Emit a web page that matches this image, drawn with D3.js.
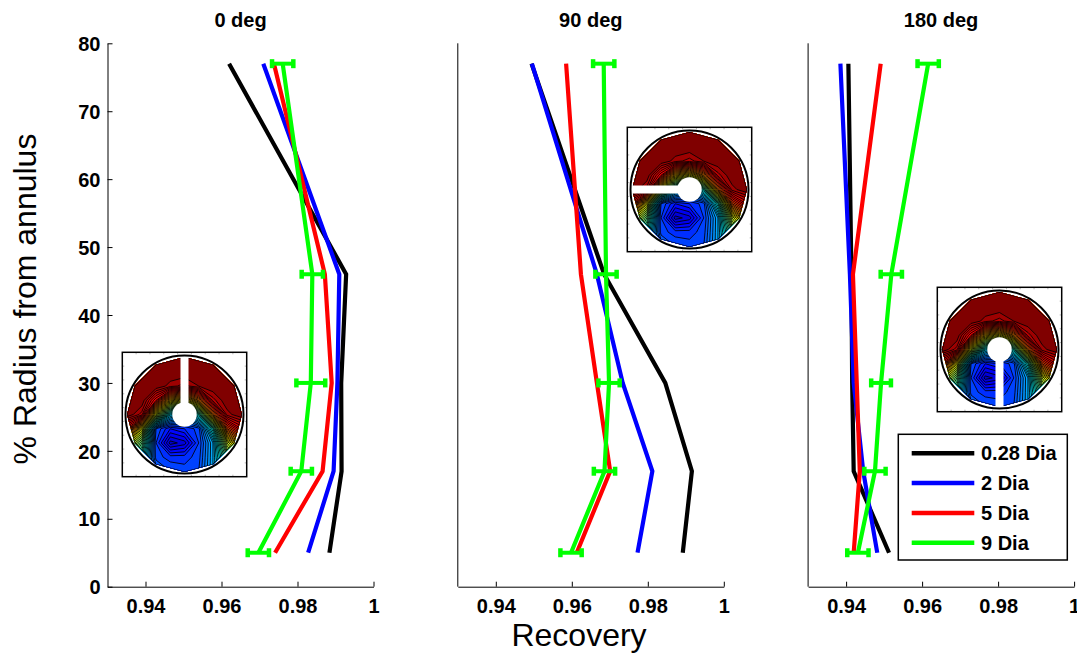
<!DOCTYPE html>
<html><head><meta charset="utf-8">
<script src="https://cdn.jsdelivr.net/npm/d3@7"></script>
<style>
body{margin:0;background:#fff}
svg{display:block}
text{font-family:"Liberation Sans",Arial,Helvetica,sans-serif}
</style>
</head><body>
<svg id="c" width="1077" height="653"></svg>
<script>
// ---------------- data ----------------
const panelTitles = ["0 deg", "90 deg", "180 deg"];
const seriesNames = ["0.28 Dia", "2 Dia", "5 Dia", "9 Dia"];
const seriesColors = ["#000000", "#0000ff", "#ff0000", "#00ff00"];
const radiusLevels = [77, 46, 30, 17, 5];
const xTickValues = [0.94, 0.96, 0.98, 1];
const yTickValues = [0, 10, 20, 30, 40, 50, 60, 70, 80];

// recovery per panel (0, 90, 180 deg), values at radiusLevels
const dia028 = [
  [0.9620, 0.9928, 0.9915, 0.9916, 0.9884],
  [0.9494, 0.9685, 0.9846, 0.9916, 0.9892],
  [0.9406, 0.9414, 0.9416, 0.9420, 0.9513]
];
const dia2 = [
  [0.9710, 0.9910, 0.9905, 0.9895, 0.9828],
  [0.9495, 0.9666, 0.9734, 0.9812, 0.9773],
  [0.9385, 0.9410, 0.9420, 0.9445, 0.9482]
];
const dia5 = [
  [0.9738, 0.9872, 0.9890, 0.9866, 0.9741],
  [0.9585, 0.9624, 0.9666, 0.9701, 0.9613],
  [0.9491, 0.9418, 0.9428, 0.9436, 0.9420]
];
const dia9 = [
  [0.9761, 0.9839, 0.9835, 0.9810, 0.9697],
  [0.9684, 0.9690, 0.9698, 0.9686, 0.9598],
  [0.9616, 0.9519, 0.9492, 0.9476, 0.9431]
];
const dia9Err = [
  [0.0028, 0.0028, 0.0038, 0.0028, 0.0028],
  [0.0028, 0.0028, 0.0028, 0.0028, 0.0028],
  [0.0028, 0.0028, 0.0026, 0.0028, 0.0028]
];
const allSeries = [dia028, dia2, dia5, dia9];

// inset contour field (decorative annulus map), rows top->bottom
const insetField = [
  [1, 1, 1, 1, 1, 1, 1, 1, 1],
  [1, 1, 1, 1, 1, 1, 1, 1, 1],
  [1, 1, 1, 0.97, 0.95, 0.98, 1, 1, 1],
  [1, 1, 0.88, 0.68, 0.62, 0.74, 0.95, 1, 1],
  [1, 0.95, 0.6, 0.35, 0.3, 0.4, 0.75, 0.97, 1],
  [0.85, 0.62, 0.2, 0.14, 0.16, 0.19, 0.4, 0.8, 0.9],
  [0.65, 0.48, 0.18, 0.07, 0.09, 0.18, 0.3, 0.58, 0.72],
  [0.55, 0.4, 0.19, 0.17, 0.17, 0.19, 0.3, 0.48, 0.62],
  [0.48, 0.35, 0.24, 0.2, 0.19, 0.2, 0.3, 0.42, 0.52]
];
const slotAngles = [0, -90, 180];

// ---------------- layout ----------------
const svg = d3.select("#c");
const left0 = 107.5, panelW = 266, panelStep = 350.3;
const yTop = 43.3, yBot = 586.7;
const y = d3.scaleLinear().domain([0, 80]).range([yBot, yTop]);
const fmt = d3.format("~g");

function styleAxis(g) {
  g.attr("font-family", null).attr("font-size", null);
  g.selectAll("text").attr("font-size", 20).attr("font-weight", "bold").attr("fill", "#000");
  g.selectAll("path,line").attr("stroke", "#000").attr("stroke-width", 1);
}

function jet(v) {
  const c = t => Math.max(0, Math.min(1, t));
  return d3.rgb(255 * c(1.5 - Math.abs(4 * v - 3)), 255 * c(1.5 - Math.abs(4 * v - 2)), 255 * c(1.5 - Math.abs(4 * v - 1))).toString();
}

const insetBoxes = [[122.3, 352.3], [627.3, 127.3], [937.3, 287.3]];

function drawInset(idx) {
  const S = 124.4, R = 59, c = S / 2;
  const [bx, by] = insetBoxes[idx];
  const g = svg.append("g").attr("transform", `translate(${bx},${by})`);
  g.append("rect").attr("width", S).attr("height", S).attr("fill", "#fff");
  const tk = d3.range(1, 9).map(k => k * S / 9);
  tk.forEach(t => {
    g.append("line").attr("x1", t).attr("x2", t).attr("y1", 0).attr("y2", 2).attr("stroke", "#999").attr("stroke-width", 0.7);
    g.append("line").attr("x1", t).attr("x2", t).attr("y1", S).attr("y2", S - 2).attr("stroke", "#999").attr("stroke-width", 0.7);
    g.append("line").attr("y1", t).attr("y2", t).attr("x1", 0).attr("x2", 2).attr("stroke", "#999").attr("stroke-width", 0.7);
    g.append("line").attr("y1", t).attr("y2", t).attr("x1", S).attr("x2", S - 2).attr("stroke", "#999").attr("stroke-width", 0.7);
  });
  const clipId = "clip" + idx;
  const poly = d3.range(12).map(k => {
    const a = -Math.PI / 2 + k * Math.PI / 6;
    return [c + 57.5 * Math.cos(a), c + 57.5 * Math.sin(a)];
  });
  g.append("clipPath").attr("id", clipId).append("polygon").attr("points", poly.map(p => p.join(",")).join(" "));
  const step = 0.02;
  const thresholds = d3.range(0, 1, step);
  const contours = d3.contours().size([9, 9]).thresholds(thresholds)(insetField.flat());
  const ext = 64;
  const path = d3.geoPath(d3.geoIdentity().scale(2 * ext / 9).translate([c - ext, c - ext]));
  const cg = g.append("g").attr("clip-path", `url(#${clipId})`);
  cg.selectAll("path").data(contours).join("path")
    .attr("d", path)
    .attr("fill", d => jet(Math.min(1, d.value + step / 2 + (d.value >= 0.97 ? 0.02 : 0))))
    .attr("stroke", "#000").attr("stroke-width", 0.85);
  cg.append("polygon").attr("points", poly.map(p => p.join(",")).join(" "))
    .attr("fill", "none").attr("stroke", "#000").attr("stroke-width", 1.2);
  const hg = g.append("g").attr("transform", `translate(${c},${c}) rotate(${slotAngles[idx]})`);
  hg.append("rect").attr("x", -4).attr("y", -R).attr("width", 8).attr("height", R).attr("fill", "#fff");
  hg.append("circle").attr("r", 12.2).attr("fill", "#fff");
  g.append("circle").attr("cx", c).attr("cy", c).attr("r", R).attr("fill", "none").attr("stroke", "#000").attr("stroke-width", 2);
  g.append("rect").attr("width", S).attr("height", S).attr("fill", "none").attr("stroke", "#000").attr("stroke-width", 1.5);
}

panelTitles.forEach((title, i) => {
  const left = left0 + i * panelStep;
  const x = d3.scaleLinear().domain([0.93, 1]).range([left, left + panelW]);
  const g = svg.append("g");

  const xa = g.append("g").attr("transform", `translate(0,${yBot})`)
    .call(d3.axisBottom(x).tickValues(xTickValues).tickFormat(fmt).tickSizeInner(-5).tickSizeOuter(0).tickPadding(12));
  styleAxis(xa);

  if (i === 0) {
    const ya = g.append("g").attr("transform", `translate(${left},0)`)
      .call(d3.axisLeft(y).tickValues(yTickValues).tickFormat(fmt).tickSizeInner(-5).tickSizeOuter(0).tickPadding(7));
    styleAxis(ya);
    ya.selectAll("text").attr("dy", "0.36em");
  } else {
    g.append("line").attr("x1", left).attr("x2", left).attr("y1", yTop).attr("y2", yBot)
      .attr("stroke", "#000").attr("stroke-width", 1);
  }

  g.append("text").attr("x", left + panelW / 2).attr("y", 26.7).attr("text-anchor", "middle")
    .attr("font-size", 20).attr("font-weight", "bold").text(title);

  const line = d3.line().x(d => x(d[0])).y(d => y(d[1]));
  allSeries.forEach((s, k) => {
    const pts = s[i].map((v, j) => [v, radiusLevels[j]]);
    g.append("path").attr("d", line(pts)).attr("fill", "none")
      .attr("stroke", seriesColors[k]).attr("stroke-width", 4.2).attr("stroke-linejoin", "miter");
  });

  const eg = g.append("g").attr("stroke", seriesColors[3]);
  dia9[i].forEach((v, j) => {
    const e = dia9Err[i][j], yy = y(radiusLevels[j]);
    eg.append("line").attr("x1", x(v - e)).attr("x2", x(v + e)).attr("y1", yy).attr("y2", yy).attr("stroke-width", 4);
    [v - e, v + e].forEach(xv => {
      eg.append("line").attr("x1", x(xv)).attr("x2", x(xv)).attr("y1", yy - 4.5).attr("y2", yy + 4.5).attr("stroke-width", 4.5);
    });
  });

  drawInset(i);
});

svg.append("text").attr("transform", "translate(36,299) rotate(-90)").attr("text-anchor", "middle")
  .attr("font-size", 32).text("% Radius from annulus");
svg.append("text").attr("x", 579).attr("y", 646).attr("text-anchor", "middle")
  .attr("font-size", 32).text("Recovery");

const lg = svg.append("g");
lg.append("rect").attr("x", 898.3).attr("y", 434.3).attr("width", 169).attr("height", 125.7)
  .attr("fill", "#fff").attr("stroke", "#000").attr("stroke-width", 1.5);
seriesNames.forEach((n, k) => {
  const yy = 453.3 + k * 29.8;
  lg.append("line").attr("x1", 911.7).attr("x2", 974.3).attr("y1", yy).attr("y2", yy)
    .attr("stroke", seriesColors[k]).attr("stroke-width", 4.5);
  lg.append("text").attr("x", 981).attr("y", yy + 7).attr("font-size", 20).attr("font-weight", "bold").text(n);
});
</script>
</body></html>
